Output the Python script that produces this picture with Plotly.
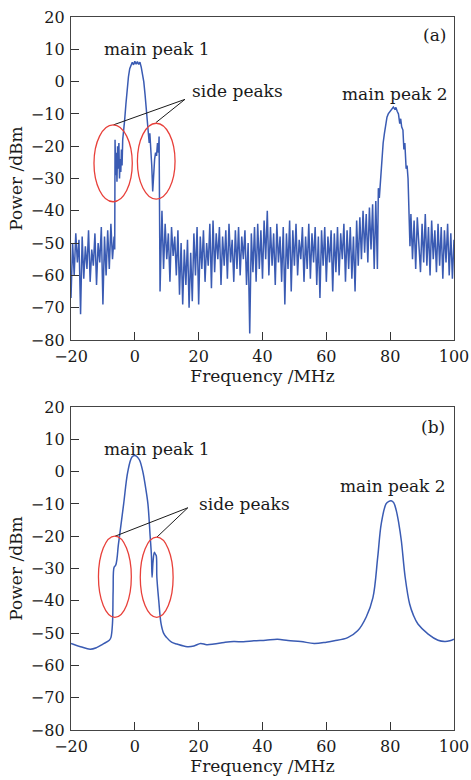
import plotly.graph_objects as go

freq_a_left = [-20, -19.5, -19, -18.5, -18, -17.5, -17, -16.5, -16, -15.5,
               -15, -14.5, -14, -13.5, -13, -12.5, -12, -11.5, -11, -10.5,
               -10, -9.5, -9, -8.5, -8, -7.5, -7, -6.5]
power_a_left = [-67, -50, -60, -47, -56, -49, -72, -48, -61, -51,
                -58, -46, -62, -52, -57, -47, -63, -50, -56, -45,
                -69, -48, -60, -46, -58, -44, -55, -48]

freq_a_peak1 = [-6.3, -6.2, -6.0, -5.8, -5.6, -5.4, -5.2, -5.0, -4.8, -4.6, -4.4, -4.2, -4.0,
                -3.8, -3.6, -3.2, -2.8, -2.4, -2.0, -1.6, -1.2, -0.8, -0.4, 0.0, 0.4, 0.8,
                1.2, 1.6, 2.0, 2.4, 2.8, 3.2, 3.6, 4.0, 4.3, 4.5, 4.7, 5.0, 5.3, 5.6, 5.9,
                6.2, 6.5, 6.8, 7.1, 7.4, 7.6, 7.8, 7.9, 8.2, 8.5]
power_a_peak1 = [-52, -18, -29, -22, -31, -20, -27, -19, -30, -24, -28, -21, -26,
                 -18, -15, -12, -7, -2, 1.5, 4, 5, 6, 5.2, 6.3, 5.4, 6.2,
                 5.3, 6.0, 4.5, 2.5, 0, -4, -8, -13, -16, -19, -16, -20, -26, -34, -27,
                 -24, -22, -23, -19, -22, -17, -48, -65, -52, -40]

freq_a_mid = [9 + 0.5 * i for i in range(134)]
power_a_mid = [-58, -44, -55, -47, -62, -45, -54, -48, -60, -46,
               -66, -50, -69, -52, -63, -49, -70, -53, -68, -47,
               -60, -45, -69, -48, -58, -46, -62, -50, -57, -44,
               -64, -43, -59, -47, -55, -45, -63, -48, -57, -46,
               -61, -44, -56, -49, -62, -46, -58, -45, -60, -48,
               -55, -46, -63, -50, -78, -47, -59, -45, -62, -44,
               -58, -46, -61, -43, -55, -40, -60, -45, -57, -47,
               -63, -44, -56, -48, -62, -45, -69, -47, -58, -43,
               -65, -46, -57, -44, -60, -49, -55, -45, -62, -48,
               -58, -44, -61, -47, -56, -45, -63, -48, -67, -46,
               -57, -45, -62, -48, -56, -46, -65, -47, -59, -45,
               -60, -47, -55, -44, -62, -46, -58, -45, -61, -48,
               -65, -43, -57, -42, -55, -40, -53, -41, -56, -39,
               -52, -38, -58, -37]

freq_a_peak2 = [76.0, 76.3, 76.6, 77.0, 77.4, 77.8, 78.2, 78.6, 79.0, 79.4, 79.8, 80.2,
                80.6, 81.0, 81.4, 81.8, 82.2, 82.6, 83.0, 83.3, 83.6, 84.0, 84.3, 84.6,
                85.0, 85.3, 85.6, 85.9, 86.2]
power_a_peak2 = [-58, -33, -36, -30, -23, -19, -16, -13, -11, -10, -9.5, -8.8,
                 -8.2, -7.9, -8.5, -8.0, -9.2, -10, -13, -11.5, -14, -15, -21, -19,
                 -27, -26, -30, -44, -51]

freq_a_right = [86.5 + 0.5 * i for i in range(28)]
power_a_right = [-41, -55, -43, -58, -42, -52, -59, -44, -56, -41,
                 -57, -45, -60, -43, -55, -46, -59, -44, -57, -45,
                 -61, -46, -56, -44, -60, -47, -61, -49]

freq_a = freq_a_left + freq_a_peak1 + freq_a_mid + freq_a_peak2 + freq_a_right
power_a = power_a_left + power_a_peak1 + power_a_mid + power_a_peak2 + power_a_right

# ---------------- panel (b) : simulated spectrum ----------------
freq_b = [-20, -17, -14, -12, -10, -8, -7.5, -7, -6.8, -6.5, -6.0, -5.6, -5.2, -4.8,
          -3.5, -2.2, -0.9, 0, 0.7, 1.5, 2.5, 3.3, 4.1, 4.8, 5.2, 5.4, 5.7, 6.1, 6.4,
          6.7, 6.9, 7.5, 8.2, 9, 10, 11.5, 13.2, 16.4, 18.5, 20.6, 22.5, 24.8, 28, 31,
          34, 37.3, 41, 44.7, 48, 52, 56.2, 60, 62.5, 66.7, 69.8, 72.5, 74.6, 76.1,
          77.2, 78.7, 79.6, 80.3, 81.1, 81.9, 82.7, 83.5, 84.7, 86.1, 87.3, 88.7,
          91.9, 95, 97.1, 98.7, 100]
power_b = [-53.2, -54.2, -55, -54.5, -53.4, -52.2, -51.4, -47, -37, -29.6, -29, -27,
           -23, -20, -10, 0, 4.5, 5, 4.6, 3.5, 0, -4.5, -10, -20, -26, -32.7, -28, -25,
           -25.5, -26, -32.7, -40, -47, -50, -51.4, -52.8, -53.4, -54.2, -54.0, -53.2,
           -53.6, -53.4, -52.9, -52.6, -52.7, -52.4, -52.2, -51.9, -52.3, -52.6, -53.2,
           -52.8, -52.4, -51.4, -49.3, -45, -39, -26.5, -16.2, -10, -9.2, -9, -9.6, -12,
           -16, -21.4, -32.7, -41, -44.5, -47.2, -50.3, -52.2, -52.6, -52.4, -51.9]

# ---------------- styling ----------------
FONT = "DejaVu Serif"
BLUE = "#3a5bb3"
RED = "#e8403a"
INK = "#1a1a1a"

fig = go.Figure()
fig.add_trace(go.Scatter(x=freq_a, y=power_a, mode="lines",
                         line=dict(color=BLUE, width=1.5), xaxis="x", yaxis="y",
                         showlegend=False, hoverinfo="skip"))
fig.add_trace(go.Scatter(x=freq_b, y=power_b, mode="lines", line_shape="spline",
                         line=dict(color=BLUE, width=1.5), xaxis="x2", yaxis="y2",
                         showlegend=False, hoverinfo="skip"))

axis_common = dict(
    showgrid=False, zeroline=False, showline=True, mirror=True, automargin=False,
    linecolor="#444444", linewidth=1.4, ticks="inside", ticklen=8, tickwidth=1.2,
    tickcolor="#333333", tickfont=dict(family=FONT, size=16, color=INK),
)

def xaxis_def(standoff):
    return dict(axis_common, range=[-20, 100], tickvals=[-20, 0, 20, 40, 60, 80, 100],
                ticklabelstandoff=2,
                title=dict(text="Frequency /MHz", font=dict(family=FONT, size=17, color=INK),
                           standoff=standoff))

ya = dict(axis_common, range=[-80, 20], tickvals=[-80, -70, -60, -50, -40, -30, -20, -10, 0, 10, 20],
          ticklabelstandoff=2,
          title=dict(text="Power /dBm", font=dict(family=FONT, size=17, color=INK), standoff=3))

fig.update_layout(
    width=471, height=780,
    margin=dict(l=71, r=17, t=17, b=50, autoexpand=False),
    paper_bgcolor="white", plot_bgcolor="white",
    xaxis=dict(xaxis_def(2), domain=[0, 1], anchor="y"),
    yaxis=dict(ya, domain=[0.547, 1.0], anchor="x"),
    xaxis2=dict(xaxis_def(2), domain=[0, 1], anchor="y2"),
    yaxis2=dict(ya, domain=[0.0, 0.453], anchor="x2"),
)

def label(text, x, y, xr, yr, anchor="left"):
    fig.add_annotation(text=text, x=x, y=y, xref=xr, yref=yr, showarrow=False,
                       xanchor=anchor, yanchor="middle",
                       font=dict(family=FONT, size=17, color=INK))

# panel (a) annotations
label("main peak 1", -10.3, 10.1, "x", "y")
label("side peaks", 17.3, -2.9, "x", "y")
label("main peak 2", 64.3, -3.8, "x", "y")
label("(a)", 94, 14.4, "x", "y", anchor="center")
fig.add_shape(type="line", x0=15.7, y0=-5.5, x1=-6.7, y1=-13.4, xref="x", yref="y",
              line=dict(color=INK, width=1))
fig.add_shape(type="line", x0=15.7, y0=-5.5, x1=6.6, y1=-12.7, xref="x", yref="y",
              line=dict(color=INK, width=1))
fig.add_shape(type="circle", x0=-12.8, x1=-0.8, y0=-37.2, y1=-13.4, xref="x", yref="y",
              line=dict(color=RED, width=1.3))
fig.add_shape(type="circle", x0=0.8, x1=12.6, y0=-36.4, y1=-12.9, xref="x", yref="y",
              line=dict(color=RED, width=1.3))

# panel (b) annotations
label("main peak 1", -10.4, 7.1, "x2", "y2")
label("side peaks", 19.5, -10.0, "x2", "y2")
label("main peak 2", 63.5, -4.3, "x2", "y2")
label("(b)", 93.4, 13.8, "x2", "y2", anchor="center")
fig.add_shape(type="line", x0=16.6, y0=-11.2, x1=-6.2, y1=-20.0, xref="x2", yref="y2",
              line=dict(color=INK, width=1))
fig.add_shape(type="line", x0=16.6, y0=-11.2, x1=6.9, y1=-20.3, xref="x2", yref="y2",
              line=dict(color=INK, width=1))
fig.add_shape(type="circle", x0=-11.4, x1=-1.1, y0=-45.1, y1=-20.0, xref="x2", yref="y2",
              line=dict(color=RED, width=1.3))
fig.add_shape(type="circle", x0=1.7, x1=12.0, y0=-45.1, y1=-20.3, xref="x2", yref="y2",
              line=dict(color=RED, width=1.3))

fig.write_html("out.html", config={"displayModeBar": False},
               post_script="document.body.style.margin='0px';")
